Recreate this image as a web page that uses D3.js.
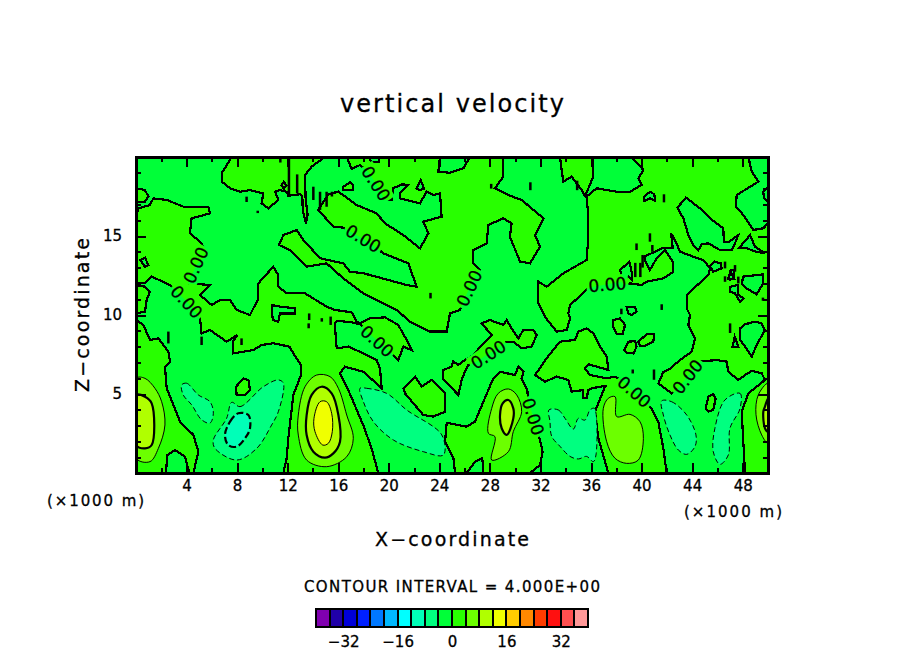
<!DOCTYPE html>
<html>
<head>
<meta charset="utf-8">
<script src="https://cdn.jsdelivr.net/npm/d3@7"></script>
<style>
  html, body { margin: 0; background: #fff; }
  text { font-family: "DejaVu Sans", sans-serif; fill: #000; stroke: #000; stroke-width: 0.3; }
</style>
</head>
<body>
<div id="my_chart"></div>
<script>
// colour bands, one per 4 units, from -40 up to 40
var bandColors = ["#8000b0","#2000a8","#0000d8","#0020ff","#0078ff","#00b8ff","#00ffff","#00ffb8","#00ff80","#00ff38",
                  "#28ff00","#6cff00","#b0ff00","#f0ff00","#ffcc00","#ff8800","#ff3c00","#ff1010","#ff5050","#ff9898"];
var legendTicks = [-32, -16, 0, 16, 32];
var xLabelTicks = [4, 8, 12, 16, 20, 24, 28, 32, 36, 40, 44, 48];
var xMinorTicks = [2, 6, 10, 14, 18, 22, 26, 30, 34, 38, 42, 46];
var zLabelTicks = [5, 10, 15];
var zMinorTicks = [1, 2, 3, 4, 6, 7, 8, 9, 11, 12, 13, 14, 16, 17, 18, 19];

// contours, [x km, z km]
var zeroRegions = [
  // large positive area, left side running along to the plume at 15 km
  [[0,16.1],[.18,16.75],[1.1,16.96],[1.37,17.38],[2.43,17.28],[3.74,16.86],[5.72,16.86],[5.85,16.43],[4.4,16.12],[4.27,15.17],[5.06,14.64],[5.54,14.11],[5.46,13.69],[4.8,13.16],[4.27,12.32],[4.14,12],[5.85,11.9],[5.06,11.27],[5.99,10.63],[6.65,10.95],[7.44,10.95],[7.96,10.32],[9.02,10],[9.68,11.05],[9.68,12],[10.86,13.06],[11.26,12.53],[11.26,11.79],[11.92,11.37],[13.37,11.37],[15.08,10.53],[15.74,10.32],[17.06,10.17],[17.46,9.58],[17.72,9.47],[18.51,9.79],[19.7,9.85],[20.75,9.37],[21.41,8.42],[21.81,7.78],[21.15,8],[20.75,7.15],[19.83,7.89],[18.25,8.95],[17.77,9.41],[17.06,9.54],[15.88,9.64],[15.74,9.47],[15.8,8.63],[15.88,7.89],[16.8,8],[17.99,7.57],[19.04,7.15],[19.3,6.62],[19.44,5.36],[17.99,6.41],[16.53,6.73],[16.14,6.31],[16.93,5],[17.99,3],[18.64,1.56],[19.17,0],[11.66,0],[11.92,.93],[12.05,2.19],[12.45,4.94],[13.05,6.2],[13.05,6.84],[12.45,7.57],[12.13,8],[10.86,8.21],[9.94,8.1],[9.28,7.78],[7.7,7.57],[7.65,8.31],[8.02,8.73],[7.75,8.6],[7.17,8.31],[5.85,9.05],[5.19,8.84],[5.06,9.79],[4.67,10.21],[4.14,10.74],[3.22,11.48],[2.69,11.9],[1.24,12.43],[.71,12],[0,12.05]],
  // top, 8 to 14 km
  [[7.57,20],[6.78,18.97],[6.78,18.44],[7.44,18.02],[8.23,17.8],[9.02,17.91],[10.07,17.7],[9.94,17.07],[10.47,16.75],[11.26,17.28],[11,17.8],[11.39,17.91],[11.92,17.8],[12.05,17.55],[12.97,17.64],[13.16,17.49],[13.19,16.65],[13.45,15.8],[13.58,16.33],[13.42,17.38],[13.37,18.86],[13.9,19.39],[14.95,20]],
  // wedge from the top, 12 to 32 km
  [[16.67,20],[17.06,19.24],[17.72,19.49],[18.38,19.07],[19.09,18.16],[19.7,17.28],[20.23,17.28],[20.36,18.02],[21.02,18.27],[21.55,18.23],[20.89,17.7],[20.89,17.38],[22.47,17.07],[22.99,17.8],[23.52,17.59],[24.05,17.7],[24.18,16.22],[22.73,15.91],[23.13,15.17],[22.47,14.22],[21.15,15.06],[19.7,15.8],[19.04,16.43],[17.46,16.96],[16.01,17.81],[15.22,17.64],[14.42,16.65],[15.61,15.59],[16.4,15.53],[17.06,15.23],[18.25,14.68],[18.91,14.32],[19.57,13.9],[21.55,13.27],[22.2,11.79],[21.41,11.9],[18,12.64],[16.93,12.74],[16.4,13.27],[14.56,13.59],[13.24,14.75],[12.71,15.38],[11.66,15.06],[11.31,14.43],[12.18,14.11],[13.5,13.06],[15.08,13.27],[16.4,12.32],[17.99,11.37],[20.62,10.32],[21.68,9.58],[23.26,8.95],[24.58,8.95],[24.84,10.1],[25.64,10.32],[25.9,10.84],[26.42,11.79],[26.82,12.43],[27.22,12.85],[26.69,13.27],[26.69,14.11],[27.74,14.54],[27.88,15.7],[29.06,16.12],[29.72,15.8],[29.58,14.96],[30.38,13.38],[31.17,13.27],[31.96,14.32],[31.57,15.06],[32.23,16.12],[30.51,17.28],[29.46,17.59],[28.4,18.02],[29.06,18.76],[29.06,20]],
  // pocket at the top near 35 km
  [[33.54,20],[33.8,18.44],[34.46,18.76],[35.26,17.91],[35.52,17.53],[35.79,18.02],[36.18,18.76],[36.18,20]],
  // whole right side
  [[35.65,17.49],[36.44,18.02],[38.03,17.8],[39.08,17.8],[40,18.23],[39.75,18.65],[40.14,19.18],[39.22,20],[50,20],[50,0],[48.18,0],[47.92,3.88],[48.44,5.04],[49.76,5.89],[49.5,6.31],[48.71,6.46],[48.18,6.2],[47.66,5.89],[46.86,6.41],[46.73,7.05],[45.94,7.15],[44.62,7.05],[44.22,6.73],[43.7,6.2],[42.91,5.36],[42.38,5.04],[41.33,5.67],[41.73,6.41],[42.12,6.52],[43.04,7.15],[43.96,7.68],[44.22,8.52],[43.7,9.37],[43.83,10],[43.57,10.42],[43.57,11.27],[45.28,12.53],[45.41,12.95],[44.89,13.48],[44.09,13.69],[43.04,14.01],[42.64,14.75],[42.33,15.17],[42.46,14.26],[41.59,14.22],[40.22,13.69],[40.32,13.38],[40.66,12.85],[41.19,13.59],[41.85,14.11],[42.46,13.38],[42.51,12.74],[41.72,12.32],[40.4,12.11],[40,11.9],[39.08,12],[38.56,11.9],[38.42,12.11],[36.18,11.79],[35.79,11.69],[34.34,10.63],[34.2,10.1],[34.34,9.79],[34.07,9.05],[33.28,8.95],[32.35,9.89],[31.83,10.74],[31.83,12.11],[32.49,11.79],[33.81,12.64],[35.65,13.48],[35.79,14.96],[35.79,16.22]],
  // left wall plume
  [[0,9.68],[.58,9.37],[1.11,8.42],[1.77,8.52],[2.56,7.68],[2.69,7.05],[2.29,6.73],[2.43,5.36],[3.48,3.25],[4.54,2.41],[4.93,1.35],[4.54,0],[0,0]],
  // plume at 29 km
  [[25.24,0],[25.11,.93],[24.45,1.98],[24.58,3.14],[24.84,3.14],[26.16,2.93],[26.82,3.25],[27.48,4.51],[28.27,5.99],[28.8,6.41],[29.98,6.2],[30.25,6.73],[30.65,6.41],[30.51,5.99],[30.96,5.25],[31.04,4.47],[31.49,3.42],[31.75,2.78],[31.96,2.09],[32.17,1.35],[31.96,.51],[31.17,0]],
  // plume at 38 km with the area above it
  [[37.37,0],[36.58,2.19],[36.31,3.88],[37.1,5.46],[37.23,5.53],[36.05,5.36],[35.79,5.25],[35.65,4.73],[35.39,4.73],[35.39,5.25],[34.47,5.15],[34.2,5.89],[33.28,6.1],[32.36,5.78],[31.57,6.2],[32.49,7.26],[33.54,8.31],[34.73,8.42],[35,8.95],[35.65,9.16],[36.18,8.84],[36.71,8],[37.24,7.36],[37.37,6.52],[36.71,6.67],[35.79,6.88],[35.52,6.62],[35.92,6.2],[37.24,5.99],[37.9,6.1],[38.56,5.78],[39.53,4.98],[40.19,4.58],[40.79,4.09],[41.32,3.25],[41.72,1.56],[41.98,0]],
  // blob around 24 to 32 km, z 5 to 9.7
  [[27.35,9.47],[28,9.68],[29.06,9.37],[29.32,9.68],[29.72,9.16],[30.25,8.52],[30.64,9.05],[31.43,9.05],[31.7,8.73],[31.3,8],[30.51,7.89],[29.85,8.31],[29.32,8.31],[28.8,8],[28.14,7.68],[26.95,7.05],[26.29,6.84],[26.03,6.41],[25.8,5.99],[25.5,4.94],[24.26,5.99],[24.31,6.52],[24.97,6.73],[25.1,7.05],[25.5,6.84],[26.03,7.15],[26.69,7.47],[27.35,8.1],[28.14,8.73]],
  // smaller closed loops on the positive side
  [[0,18.02],[.71,17.91],[.98,17.49],[.71,17.17],[0,17.17]],
  [[0,11.9],[.71,11.79],[1.11,11.48],[.84,10.95],[.71,10.21],[0,10.1]],
  [[8.49,5.99],[8.89,5.89],[9.02,5.25],[8.62,4.94],[7.96,4.94],[7.91,5.46]],
  [[21.15,5.36],[22.07,6.1],[22.6,5.46],[23.39,5.89],[24.45,5.04],[24.45,3.88],[23.52,3.57],[22.73,3.67],[21.28,5.04]],
  [[16.4,18.12],[16.93,18.4],[17.19,18.23],[17.14,17.91],[16.4,17.91]],
  [[37.76,9.68],[38.29,9.79],[38.69,9.37],[38.5,8.78],[38.03,8.78],[37.76,9.26]],
  [[39.74,8.31],[40.4,8.78],[41,8.78],[40.93,8.31],[40.27,8.06],[39.87,8.06]],
  [[38.61,7.78],[38.95,8.31],[39.48,8.35],[39.61,8],[39.35,7.57],[38.82,7.62]],
  [[45.07,4.09],[45.28,4.83],[45.67,4.98],[45.86,4.73],[45.67,3.99],[45.28,3.88]],
  [[11.52,18.2],[11.7,18.44],[11.9,18.2],[11.7,18]]
];
var zeroPockets = [
  [[2.37,0],[2.48,1.14],[3.09,1.46],[3.88,1.03],[4.22,0]],
  [[26.16,0],[26.82,.72],[27.4,.93],[27.48,0]],
  [[24.05,20],[23.92,19.07],[24.84,19],[25.9,19.28],[26.42,20]],
  [[18.4,20],[18.6,19.7],[19.2,19.7],[19.3,20]],
  [[22.2,18],[22.52,18.54],[22.78,18],[22.47,17.91]],
  [[.32,13.48],[.71,13.63],[.98,13.16],[.71,13.06]],
  [[10.73,10.63],[11.39,10.53],[12.58,10.42],[12.58,10.1],[11.39,10.1],[11.26,9.58],[10.86,9.68],[10.73,10.1]],
  [[40.19,17.49],[40.66,17.8],[41.01,17.64],[41.06,17.22],[40.66,17.38],[40.2,17.22]],
  [[42.83,16.79],[43.51,17.43],[44.62,16.75],[45.41,16.12],[46.46,15.49],[46.51,14.64],[46.86,14.6],[47.65,15.06],[47.39,14.54],[47.13,14.11],[46.2,14.11],[45.28,14.54],[44.75,14.47],[44.49,14.11],[44.09,14.43],[43.7,15.06],[43.3,16.12]],
  [[48.45,20],[48.71,19.07],[49.24,18.44],[47.52,17.59],[47.47,16.86],[48.05,16.33],[48.84,15.38],[49.63,15.49],[50,15.8],[50,20]],
  [[47.73,14.26],[48.58,15.06],[48.97,14.32],[49.76,13.9],[49.1,14],[48.31,14.22]],
  [[45.41,13.08],[45.8,13.38],[46.25,13.27],[46.33,12.95],[45.67,12.74]],
  [[46.86,12.32],[47.05,12.85],[47.31,12.85],[47.26,12.32],[46.99,12.22]],
  [[48.05,12.43],[49.63,12.57],[49.63,12],[49.1,11.31],[48.31,11.69],[47.92,12]],
  [[47,11.79],[47.65,11.9],[47.65,11.27],[48.05,11.05],[47.79,10.84],[47.39,11.37],[47,11.48]],
  [[47.79,9.16],[48.18,9.41],[48.97,9.58],[49.5,9.47],[49.76,9.05],[49.1,8.1],[48.71,7.36],[48.18,8],[47.79,8.42]],
  [[47.2,8],[47.37,8.63],[47.65,8]],
  [[38.81,10.53],[39.48,10.53],[39.61,10.21],[39.21,10],[38.95,10.11]],
  [[38.29,12.85],[38.6,13.06],[39.03,13.38],[39.21,12.74],[39.21,12.22],[38.95,12.43],[38.69,12.22],[38.42,12.53]],
  [[46.86,12.3],[47.05,12.7],[47.3,12.3]],
  [[49.63,17.8],[50,18.1],[50,17.17],[49.68,17.38]]
];
// thin slivers, [x km, top z km, bottom z km]
var zeroSlivers = [
  [12.1,20,17.6],[11.42,20,19.65],[12.75,18.9,17.7],[14.03,18.12,17.28],[14.56,17.8,16.65],[15.08,17.8,16.85],[15.5,17.8,17.5],
  [8.75,17.49,17.15],[9.63,16.6,16.45],[2.56,8.95,8.2],[5.19,8.63,8.1],[8.35,8.52,8.1],[13.66,9.47,9.16],[13.7,10.1,9.68],
  [14.7,9.8,9.58],[15.4,9.9,9.37],[23.3,11.4,11.05],[41.77,17.64,17.13],[40.66,15.17,14.64],[39.6,14.53,14.11],[40.85,14.43,14],
  [40.08,13.8,13],[39.5,13.3,12.4],[39.9,13.3,12.4],[46.6,13.38,12.95],[47.39,13.16,12.74],[46.6,12.45,12.1],[47.65,12.43,12],
  [41.59,10.68,10.32],[38.4,10.4,10.05],[47,9.47,8.86],[39.3,6.55,6.3],[40.98,6.55,5.9],[34.9,18.5,17.9],[31.2,18.4,17.9],[28.1,18.3,18],[49.6,11.1,10.9]
];
var plusFour = [
  [[0,5.99],[.71,5.99],[1.5,5.36],[2.03,4.51],[2.29,3.04],[1.77,1.56],[1.11,.72],[0,.93]],
  [[12.84,3.67],[13.37,5.46],[14.29,6.2],[15.35,6.1],[16.01,5.36],[16.67,3.67],[17.19,2.19],[16.67,1.03],[15.08,.4],[13.5,.82],[12.84,2.4]],
  [[27.88,2.51],[28.4,2.3],[28.14,.82],[29.46,1.35],[29.85,2.62],[30.51,3.88],[30.12,4.94],[29.46,5.32],[28.66,5.04],[28.14,4.09]],
  [[36.97,4.09],[37.37,4.73],[37.9,4.83],[38.03,3.57],[39.08,3.71],[39.87,3.25],[40.14,2.19],[39.74,.82],[38.82,.61],[37.9,.93],[37.24,1.98]],
  [[50,5.67],[49.23,4.94],[49.05,3.69],[49.5,2.41],[50,1.88]]
];
var plusEight = [
  [[0,4.94],[.71,4.83],[1.24,4.41],[1.24,1.77],[.71,1.56],[0,1.77]],
  [[13.5,3.67],[13.9,4.94],[14.69,5.46],[15.48,5.04],[16.01,3.67],[16.14,1.98],[15.61,1.24],[14.95,.97],[14.03,1.35],[13.5,2.4]],
  [[28.8,3.67],[29.01,4.41],[29.46,4.62],[29.85,4.09],[29.85,3.46],[29.33,2.41],[28.93,2.83]],
  [[50,4.73],[49.76,4.2],[49.63,3.88],[49.76,2.83],[50,2.62]]
];
var plusTwelve = [
  [[14.08,3.46],[14.56,4.51],[15.08,4.51],[15.48,3.78],[15.53,2.62],[15.22,1.88],[14.77,1.77],[14.16,2.62]]
];
var minusFour = [
  [[3.61,5.57],[4.01,5.68],[4.93,4.94],[5.85,4.51],[6.12,3.78],[5.85,3.16],[5.19,3.37],[4.4,4.32],[3.74,4.94]],
  [[7.57,4.47],[8.23,4.2],[10.07,5.46],[11.26,5.89],[11.66,5.68],[11.26,3.88],[10.73,3.04],[9.55,1.56],[7.96,.82],[6.25,1.56],[6.12,2.09],[7.17,3.46]],
  [[17.72,5.36],[18.25,5.36],[19.83,5.04],[21.41,3.99],[24.19,2.41],[24.32,1.14],[22.73,1.35],[20.36,2.09],[18.78,3.25],[17.99,4.51]],
  [[32.67,3.99],[33.41,3.99],[33.94,3.46],[34.6,2.78],[35,3.46],[35.52,3.35],[35.92,3.99],[36.26,4.09],[36.39,1.14],[36.18,.72],[35.65,1.05],[35,.89],[34.34,1.05],[33.54,1.69],[32.89,2.32],[32.75,3.27]],
  [[41.59,4.56],[42.38,4.51],[43.57,3.67],[44.3,2.41],[44.22,1.67],[43.57,1.18],[42.91,1.45],[42.25,2.4],[41.72,3.67]],
  [[46.59,4.62],[47.79,5.04],[47.79,4.09],[46.99,2.83],[46.86,1.14],[46.2,.55],[45.67,1.35],[45.8,2.83]]
];
var minusEight = [
  [[7.04,2.41],[7.44,3.25],[8.09,3.78],[8.89,3.67],[9.02,2.83],[8.62,2.19],[7.96,1.67],[7.3,1.77]]
];
// where the zero contour carries its label, [x km, z km, angle]
var zeroLabels = [
  [17.99,14.85,31],[4.72,13.16,-66],[4.01,10.84,47],[18.99,18.33,57],[26.35,11.69,-65],[37.29,11.94,-5],
  [19.09,8.35,42],[27.87,7.5,-33],[39.43,5.15,42],[43.62,6.1,-52],[31.44,3.57,73]
];

var width = 904, height = 654;
var margin = {top: 157, right: 136, bottom: 181, left: 136},
    plotWidth = width - margin.left - margin.right,
    plotHeight = height - margin.top - margin.bottom;

var x = d3.scaleLinear().domain([0, 50]).range([0, plotWidth]);
var z = d3.scaleLinear().domain([0, 20]).range([plotHeight, 0]);
var legendX = d3.scaleLinear().domain([-40, 40]).range([316, 588]);
var band = d3.scaleThreshold()
  .domain(d3.range(-36, 40, 4))
  .range(bandColors);

var svg = d3.select("#my_chart").append("svg")
  .attr("width", width)
  .attr("height", height);

svg.append("text").attr("x", 452).attr("y", 112).attr("text-anchor", "middle")
  .attr("font-size", 24).attr("textLength", 224).text("vertical velocity");

var defs = svg.append("defs");
defs.append("clipPath").attr("id", "plot_clip").append("rect")
  .attr("width", plotWidth).attr("height", plotHeight);

// labels sit in gaps of the zero line
var gaps = defs.append("mask").attr("id", "label_gaps").attr("maskUnits", "userSpaceOnUse")
  .attr("x", -5).attr("y", -5).attr("width", plotWidth + 10).attr("height", plotHeight + 10);
gaps.append("rect").attr("x", -5).attr("y", -5).attr("width", plotWidth + 10).attr("height", plotHeight + 10).attr("fill", "#fff");
gaps.selectAll("rect.gap").data(zeroLabels).enter().append("rect")
  .attr("class", "gap")
  .attr("x", -21).attr("y", -9).attr("width", 42).attr("height", 18).attr("fill", "#000")
  .attr("transform", function(d) { return "translate(" + x(d[0]) + "," + z(d[1]) + ") rotate(" + d[2] + ")"; });

var plot = svg.append("g")
  .attr("transform", "translate(" + margin.left + "," + margin.top + ")");

var inner = plot.append("g").attr("clip-path", "url(#plot_clip)");
inner.append("rect").attr("width", plotWidth).attr("height", plotHeight)
  .attr("fill", band(-2));

function ringPath(curve) {
  return d3.line()
    .x(function(d) { return x(d[0]); })
    .y(function(d) { return z(d[1]); })
    .curve(curve);
}
// zero line is jagged in the picture, the other levels are smooth
var jagged = ringPath(d3.curveLinearClosed);
var smooth = ringPath(d3.curveCatmullRomClosed.alpha(0.5));

// paint one set of closed contours, level is the contour value, inside the band it encloses
function drawContours(rings, level, inside) {
  var bold = level % 8 === 0;
  var ring = level === 0 ? jagged : smooth;
  inner.append("g").selectAll("path").data(rings).enter().append("path")
    .attr("d", ring)
    .attr("fill", band(inside));
  var lines = inner.append("g");
  if (level === 0) lines.attr("mask", "url(#label_gaps)");
  lines.selectAll("path").data(rings).enter().append("path")
    .attr("d", ring)
    .attr("fill", "none")
    .attr("stroke", "#000")
    .attr("stroke-width", bold ? 2.2 : 1)
    .attr("stroke-dasharray", level < 0 ? (bold ? "7,3" : "5,3") : null)
    .attr("shape-rendering", level === 0 ? "crispEdges" : null);
}

drawContours(zeroRegions, 0, 2);
drawContours(zeroPockets, 0, -2);
drawContours(plusFour, 4, 6);
drawContours(plusEight, 8, 10);
drawContours(plusTwelve, 12, 14);
drawContours(minusFour, -4, -6);
drawContours(minusEight, -8, -10);

inner.append("g").selectAll("line").data(zeroSlivers).enter().append("line")
  .attr("x1", function(d) { return x(d[0]); })
  .attr("x2", function(d) { return x(d[0]); })
  .attr("y1", function(d) { return z(d[1]); })
  .attr("y2", function(d) { return z(d[2]); })
  .attr("stroke", "#000")
  .attr("stroke-width", 2.5);

inner.append("g").selectAll("text").data(zeroLabels).enter().append("text")
  .attr("transform", function(d) { return "translate(" + x(d[0]) + "," + z(d[1]) + ") rotate(" + d[2] + ")"; })
  .attr("text-anchor", "middle")
  .attr("dy", "0.37em")
  .attr("font-size", 17)
  .attr("stroke-width", 0.7)
  .text("0.00");

// ticks point inward on all four sides
function tickStyle(g) {
  g.select(".domain").remove();
  g.selectAll("line").attr("stroke", "#000").attr("stroke-width", 2).attr("shape-rendering", "crispEdges");
}
plot.append("g").attr("transform", "translate(0," + plotHeight + ")")
  .call(d3.axisBottom(x).tickValues(xLabelTicks).tickSize(-10).tickFormat("")).call(tickStyle);
plot.append("g").attr("transform", "translate(0," + plotHeight + ")")
  .call(d3.axisBottom(x).tickValues(xMinorTicks).tickSize(-5).tickFormat("")).call(tickStyle);
plot.append("g")
  .call(d3.axisTop(x).tickValues(xLabelTicks).tickSize(-10).tickFormat("")).call(tickStyle);
plot.append("g")
  .call(d3.axisTop(x).tickValues(xMinorTicks).tickSize(-5).tickFormat("")).call(tickStyle);
plot.append("g")
  .call(d3.axisLeft(z).tickValues(zLabelTicks).tickSize(-10).tickFormat("")).call(tickStyle);
plot.append("g")
  .call(d3.axisLeft(z).tickValues(zMinorTicks).tickSize(-5).tickFormat("")).call(tickStyle);
plot.append("g").attr("transform", "translate(" + plotWidth + ",0)")
  .call(d3.axisRight(z).tickValues(zLabelTicks).tickSize(-10).tickFormat("")).call(tickStyle);
plot.append("g").attr("transform", "translate(" + plotWidth + ",0)")
  .call(d3.axisRight(z).tickValues(zMinorTicks).tickSize(-5).tickFormat("")).call(tickStyle);

plot.append("rect").attr("width", plotWidth).attr("height", plotHeight)
  .attr("fill", "none").attr("stroke", "#000").attr("stroke-width", 3)
  .attr("shape-rendering", "crispEdges");

// tick labels
var xLabels = plot.append("g").attr("transform", "translate(0," + plotHeight + ")")
  .call(d3.axisBottom(x).tickValues(xLabelTicks).tickSize(0).tickPadding(7).tickFormat(d3.format("d")));
xLabels.select(".domain").remove();
xLabels.selectAll("text").attr("font-size", 15).attr("font-family", null);

var zLabels = plot.append("g")
  .call(d3.axisLeft(z).tickValues(zLabelTicks).tickSize(0).tickPadding(14).tickFormat(d3.format("d")));
zLabels.select(".domain").remove();
zLabels.selectAll("text").attr("font-size", 15).attr("font-family", null);

svg.append("text").attr("x", 452).attr("y", 546).attr("text-anchor", "middle")
  .attr("font-size", 19).attr("textLength", 154).text("X\u2212coordinate");
svg.append("text").attr("transform", "translate(89,315) rotate(-90)").attr("text-anchor", "middle")
  .attr("font-size", 19).attr("textLength", 154).text("Z\u2212coordinate");
svg.append("text").attr("x", 47).attr("y", 506)
  .attr("font-size", 15).attr("textLength", 97).text("(\u00d71000 m)");
svg.append("text").attr("x", 684).attr("y", 517)
  .attr("font-size", 15).attr("textLength", 98).text("(\u00d71000 m)");
svg.append("text").attr("x", 452).attr("y", 592).attr("text-anchor", "middle")
  .attr("font-size", 15).attr("textLength", 296).text("CONTOUR INTERVAL = 4.000E+00");

// colour bar
var legend = svg.append("g");
legend.selectAll("rect").data(bandColors).enter().append("rect")
  .attr("x", function(d, i) { return legendX(-40 + 4 * i); })
  .attr("y", 609)
  .attr("width", legendX(4) - legendX(0))
  .attr("height", 18)
  .attr("fill", function(d) { return d; })
  .attr("stroke", "#000")
  .attr("stroke-width", 2)
  .attr("shape-rendering", "crispEdges");

var legendAxis = svg.append("g").attr("transform", "translate(0,627)")
  .call(d3.axisBottom(legendX).tickValues(legendTicks).tickSize(0).tickPadding(9));
legendAxis.select(".domain").remove();
legendAxis.selectAll("text").attr("font-size", 15).attr("font-family", null);
</script>
</body>
</html>
